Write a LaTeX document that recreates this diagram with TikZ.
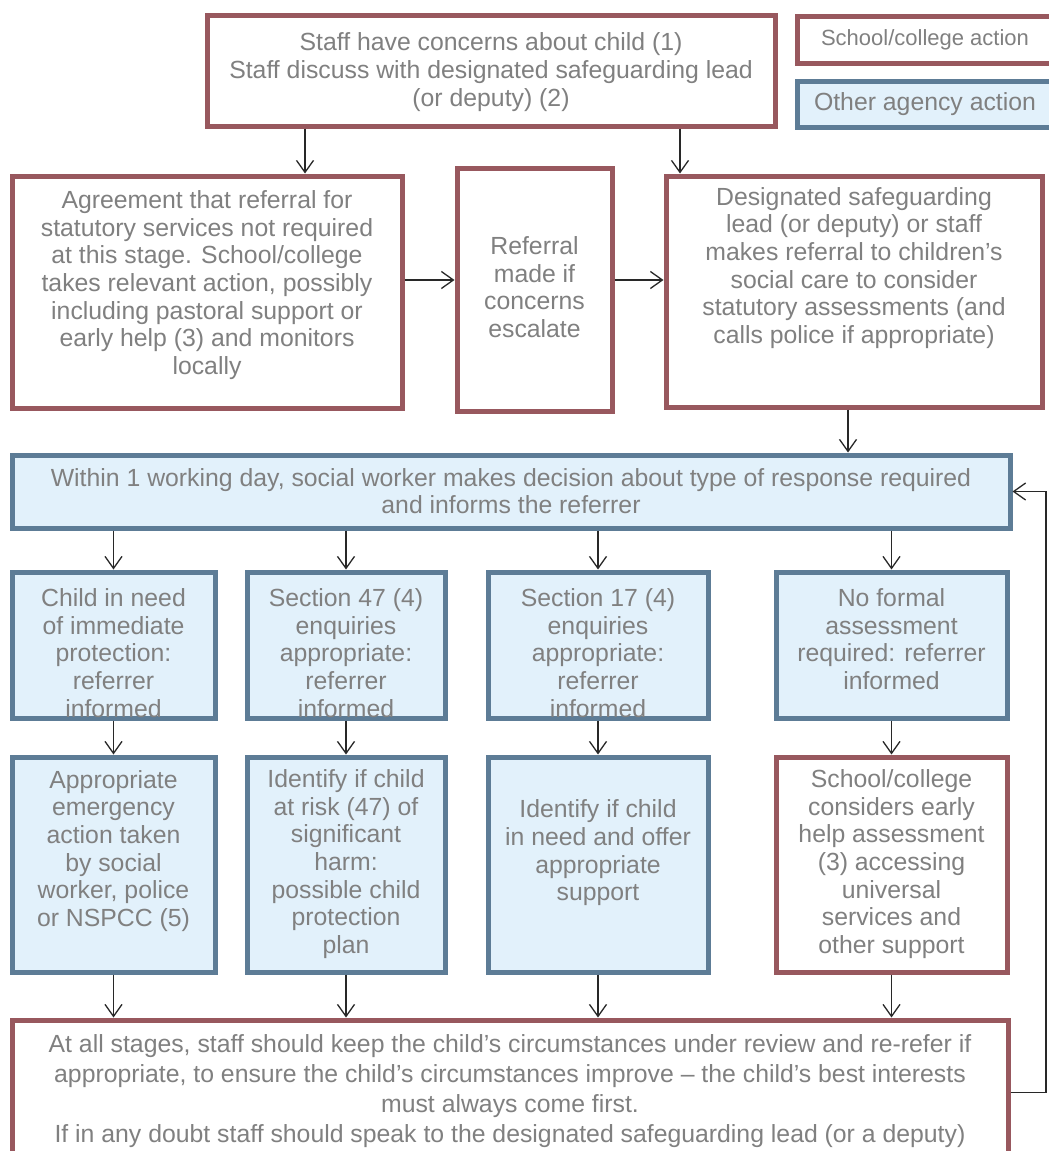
\documentclass[tikz,border=0pt]{standalone}
\usepackage{fontspec}
\setmainfont{Liberation Sans}
\usetikzlibrary{arrows.meta}
\definecolor{redline}{RGB}{152,88,94}
\definecolor{blueline}{RGB}{93,124,150}
\definecolor{bluefill}{RGB}{226,241,251}
\definecolor{txt}{RGB}{128,128,128}
\definecolor{arrowc}{RGB}{40,40,40}
\begin{document}
\begin{tikzpicture}[x=1pt,y=-1pt,
  schoolbox/.style={draw=redline, line width=5pt, fill=white, inner sep=0pt},
  agencybox/.style={draw=blueline, line width=5pt, fill=bluefill, inner sep=0pt},
  boxtext/.style={text=txt, align=center, font=\fontsize{24.8}{27.7}\selectfont, inner sep=0pt},
  arr/.style={draw=arrowc, line width=1.3pt, -{Straight Barb[length=12pt,width=17pt]}}]
\fill[white] (0,0) rectangle (1049,1151);
\useasboundingbox (0,0) rectangle (1049,1151);

% boxes
\node[schoolbox, minimum width=568, minimum height=111] (top) at (491,70.5) {};
\node[schoolbox, minimum width=258, minimum height=47] (leg1) at (926,39.5) {};
\node[agencybox, minimum width=258, minimum height=46] (leg2) at (926,104) {};
\node[schoolbox, minimum width=390, minimum height=232] (A) at (207,292) {};
\node[schoolbox, minimum width=155, minimum height=243] (B) at (534.5,289.5) {};
\node[schoolbox, minimum width=376, minimum height=231] (C) at (854,291.5) {};
\node[agencybox, minimum width=998, minimum height=73] (D) at (511,491.5) {};
\node[agencybox, minimum width=203, minimum height=146] (r3a) at (113.5,645) {};
\node[agencybox, minimum width=198, minimum height=146] (r3b) at (346,645) {};
\node[agencybox, minimum width=220, minimum height=146] (r3c) at (598,645) {};
\node[agencybox, minimum width=231, minimum height=146] (r3d) at (891.5,645) {};
\node[agencybox, minimum width=203, minimum height=215] (r4a) at (113.5,864.5) {};
\node[agencybox, minimum width=198, minimum height=215] (r4b) at (346,864.5) {};
\node[agencybox, minimum width=220, minimum height=215] (r4c) at (598,864.5) {};
\node[schoolbox, minimum width=231, minimum height=215] (r4d) at (891.5,864.5) {};
\node[schoolbox, minimum width=996, minimum height=145] (bot) at (510,1092.5) {};

% texts
\node[boxtext] (topT) at (491,72) {Staff have concerns  about child (1)\\Staff discuss  with designated safeguarding  lead\\(or deputy) (2)};
\node[boxtext, font=\fontsize{22}{26}\selectfont] (leg1T) at (925,40) {School/college action};
\node[boxtext] (leg2T) at (925,104) {Other agency action};
\node[boxtext] (AT) at (207,285) {Agreement that referral for\\statutory  services not required\\at this  stage.  School/college\\takes relevant action, possibly\\including pastoral support  or\\early help (3) and monitors\\locally};
\node[boxtext] (BT) at (534.5,287) {Referral\\made if\\concerns\\escalate};
\node[boxtext] (CT) at (854,268) {Designated safeguarding\\lead (or deputy) or staff\\makes referral to children’s\\social care to consider\\statutory  assessments  (and\\calls police if appropriate)};
\node[boxtext] (DT) at (511,491) {Within 1 working day, social worker makes decision  about type of response  required\\and informs  the referrer};
\node[boxtext] (r3aT) at (113.5,653) {Child in need\\of immediate\\protection:\\referrer\\informed};
\node[boxtext] (r3bT) at (346,653) {Section 47 (4)\\enquiries\\appropriate:\\referrer\\informed};
\node[boxtext] (r3cT) at (598,653) {Section 17 (4)\\enquiries\\appropriate:\\referrer\\informed};
\node[boxtext] (r3dT) at (891.5,639) {No formal\\assessment\\required: referrer\\informed};
\node[boxtext] (r4aT) at (113.5,851) {Appropriate\\emergency\\action taken\\by social\\worker, police\\or NSPCC (5)};
\node[boxtext] (r4bT) at (346,864) {Identify if child\\at risk  (47) of\\significant\\harm:\\possible  child\\protection\\plan};
\node[boxtext] (r4cT) at (598,853) {Identify if child\\in need and offer\\appropriate\\support};
\node[boxtext] (r4dT) at (891.5,864) {School/college\\considers  early\\help assessment\\(3)  accessing\\universal\\services and\\other support};
\node[boxtext, font=\fontsize{24.8}{30}\selectfont] (botT) at (510,1091) {At all stages, staff should  keep the child’s circumstances  under review and re-refer if\\appropriate, to ensure the child’s circumstances  improve – the child’s best interests\\must always come first.\\If in any doubt staff should  speak to the designated safeguarding lead (or a deputy)};

% connector helper coordinates
\coordinate (xa) at (305,0);
\coordinate (xc) at (680,0);
\coordinate (ya) at (0,280);
\coordinate (xd) at (848,0);
\coordinate (fb) at (1046,0);

\draw[arr] (top.south -| xa) -- (A.north -| xa);
\draw[arr] (top.south -| xc) -- (C.north -| xc);
\draw[arr] (A.east |- ya) -- (B.west |- ya);
\draw[arr] (B.east |- ya) -- (C.west |- ya);
\draw[arr] (C.south -| xd) -- (D.north -| xd);
\foreach \n in {r3a,r3b,r3c,r3d}{
  \draw[arr] (D.south -| \n.north) -- (\n.north);
}
\foreach \a/\b in {r3a/r4a,r3b/r4b,r3c/r4c,r3d/r4d}{
  \draw[arr] (\a.south) -- (\b.north);
}
\foreach \n in {r4a,r4b,r4c,r4d}{
  \draw[arr] (\n.south) -- (bot.north -| \n.south);
}
\draw[arr] (bot.east) -- (bot.east -| fb) -- (D.east -| fb) -- (D.east);
\end{tikzpicture}
\end{document}
